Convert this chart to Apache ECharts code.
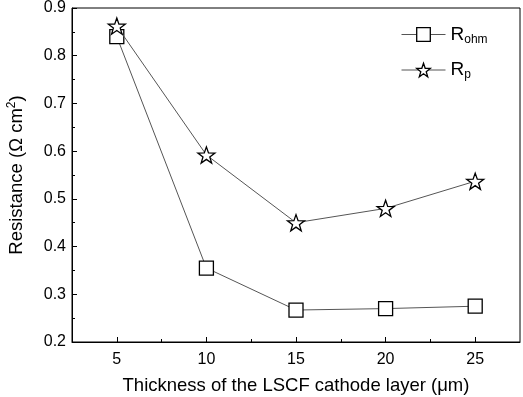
<!DOCTYPE html>
<html>
<head>
<meta charset="utf-8">
<script src="https://cdn.jsdelivr.net/npm/echarts@6/dist/echarts.min.js"></script>
<style>
  html, body { margin: 0; padding: 0; background: #fff; }
  #chart { width: 523px; height: 397px; }
</style>
</head>
<body>
<div id="chart"></div>
<script>
// thickness of cathode layer (um)
var thickness = [5, 10, 15, 20, 25];
var rOhm = [0.84, 0.355, 0.267, 0.27, 0.275];
var rP = [0.862, 0.592, 0.45, 0.48, 0.537];
var xMajor = [5, 10, 15, 20, 25];
var xMinor = [7.5, 12.5, 17.5, 22.5];

var starPath = 'path://M0,-10L2.35,-3.24L9.51,-3.09L3.8,1.24L5.88,8.09L0,4L-5.88,8.09L-3.8,1.24L-9.51,-3.09L-2.35,-3.24Z';
var font = 'Liberation Sans';

var myChart = echarts.init(document.getElementById('chart'));

function pairs(ys) {
  return thickness.map(function (x, i) { return [x, ys[i]]; });
}

var option = {
  animation: false,
  textStyle: { fontFamily: font },
  grid: {
    left: 72, right: 3, top: 8, bottom: 55,
    outerBoundsMode: 'none', containLabel: false,
    show: true, borderColor: '#000', borderWidth: 1
  },
  legend: {
    left: 396, top: 20,
    orient: 'vertical',
    itemWidth: 44, itemHeight: 17,
    itemGap: 15,
    data: ['Rohm', 'Rp'],
    itemStyle: { color: '#fff', borderColor: '#000', borderWidth: 1.3 },
    lineStyle: { color: '#555', width: 1 },
    formatter: function (name) {
      return name === 'Rohm' ? '{r|R}{s|ohm}' : '{r|R}{s|p}';
    },
    textStyle: {
      rich: {
        r: { fontSize: 19, color: '#000', fontFamily: font },
        s: { fontSize: 12, color: '#000', fontFamily: font, verticalAlign: 'bottom', padding: [10, 0, 0, 0] }
      }
    }
  },
  xAxis: [{
    type: 'value', min: 2.5, max: 27.5,
    name: 'Thickness of the LSCF cathode layer (μm)',
    nameLocation: 'middle', nameGap: 34,
    nameTextStyle: { fontSize: 18.5, color: '#000', fontFamily: font },
    axisLine: { lineStyle: { color: '#000' } },
    axisTick: { inside: true, length: 5, customValues: xMajor, lineStyle: { color: '#000' } },
    axisLabel: { customValues: xMajor, fontSize: 16, color: '#000', margin: 10, fontFamily: font },
    splitLine: { show: false }
  }, {
    type: 'value', min: 2.5, max: 27.5, position: 'bottom',
    axisLine: { show: false },
    axisTick: { inside: true, length: 3, customValues: xMinor, lineStyle: { color: '#000' } },
    axisLabel: { show: false },
    splitLine: { show: false }
  }],
  yAxis: {
    type: 'value', min: 0.2, max: 0.9, interval: 0.1,
    name: '{a|Resistance (Ω cm}{sup|2}{a|)}',
    nameLocation: 'middle', nameGap: 45,
    nameTextStyle: {
      rich: {
        a: { fontSize: 18.5, color: '#000', fontFamily: font },
        sup: { fontSize: 12, color: '#000', fontFamily: font, verticalAlign: 'top', padding: [0, 0, 9, 0] }
      }
    },
    axisLine: { show: true, lineStyle: { color: '#000' } },
    axisTick: { inside: true, length: 5, lineStyle: { color: '#000' } },
    minorTick: { show: true, splitNumber: 2, length: 3, lineStyle: { color: '#000' } },
    axisLabel: {
      fontSize: 16, color: '#000', margin: 6, fontFamily: font,
      formatter: function (v) { return v.toFixed(1); }
    },
    splitLine: { show: false }
  },
  series: [{
    name: 'Rohm', type: 'line',
    data: pairs(rOhm),
    symbol: 'rect', symbolSize: 14,
    lineStyle: { color: '#555', width: 1 },
    itemStyle: { color: '#fff', borderColor: '#000', borderWidth: 1.3 },
    z: 3
  }, {
    name: 'Rp', type: 'line',
    data: pairs(rP),
    symbol: starPath, symbolSize: 17, symbolKeepAspect: true,
    lineStyle: { color: '#555', width: 1 },
    itemStyle: { color: '#fff', borderColor: '#000', borderWidth: 1.3 },
    z: 4
  }]
};
myChart.setOption(option);
</script>
</body>
</html>
